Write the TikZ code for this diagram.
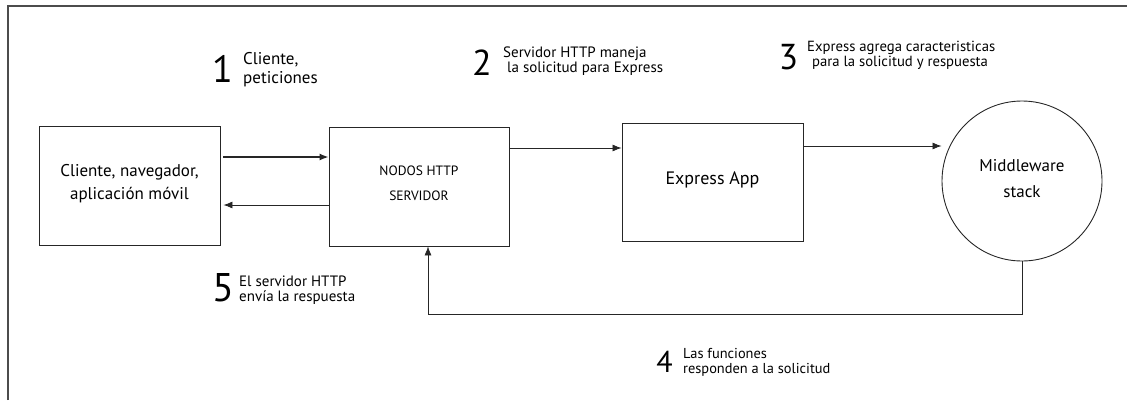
\documentclass[tikz,border=0pt]{standalone}
\usepackage{fontspec}
\setmainfont{PT Sans}
\usetikzlibrary{arrows.meta}
\tikzset{
  caja/.style={draw=black!85, line width=0.9pt, minimum width=181pt, minimum height=119pt, inner sep=0pt},
  rotulo/.style={align=center, font=\fontsize{17}{23}\selectfont},
  numero/.style={inner sep=0pt, font=\fontsize{36}{36}\selectfont},
  nota/.style={anchor=west, align=left, inner sep=0pt, font=\fontsize{15}{15}\selectfont},
  flecha/.style={draw=black!85, line width=0.8pt, -{Latex[length=9pt,width=7pt]}}
}
\begin{document}
\begin{tikzpicture}[x=1pt,y=-1pt]
\useasboundingbox (0,0) rectangle (1127,400);
\draw[black!70, line width=1.2pt] (8,400) -- (8,6) -- (1127,6);
\node[caja, label={[rotulo, yshift=2pt]center:Cliente, navegador,\\aplicación móvil}] (cliente) at (129.5,186) {};
\node[caja, minimum width=180pt, label={[rotulo, font=\fontsize{13.5}{25}\selectfont, yshift=3pt]center:NODOS HTTP\\SERVIDOR}] (servidor) at (419,186.5) {};
\node[caja, minimum height=118pt, label={[rotulo, font=\fontsize{18}{23}\selectfont, yshift=2pt]center:Express App}] (express) at (712.5,182) {};
\node[draw=black!85, line width=0.9pt, circle, minimum size=160pt, inner sep=0pt, label={[rotulo, font=\fontsize{17}{26}\selectfont, yshift=2pt]center:Middleware\\stack}] (middleware) at (1022,181) {};
\coordinate (retorno) at (428,314);
\draw[flecha, line width=1.4pt] ([yshift=29pt,xshift=3pt]cliente.east) -- ([yshift=29pt]cliente.east -| servidor.west);
\draw[flecha] ([yshift=-18.5pt]servidor.west) -- ([yshift=-18.5pt,xshift=3pt]servidor.west -| cliente.east);
\draw[flecha] ([yshift=38.5pt]servidor.east) -- ([yshift=38.5pt]servidor.east -| express.west);
\draw[flecha] ([yshift=36pt]express.east) -- ([yshift=36pt]express.east -| middleware.west);
\draw[flecha, line width=0.6pt] (middleware.south) |- (retorno) -- ([xshift=9pt]servidor.south);
\node[numero, font=\fontsize{38}{38}\selectfont] (n1) at (222.5,69) {1};
\node[nota, font=\fontsize{17}{19}\selectfont] (t1) at (243,70) {Cliente,\\peticiones};
\node[numero] (n2) at (482,62.5) {2};
\node[nota] (t2) at (503,61.5) {Servidor HTTP maneja\\\hspace*{4pt}la solicitud para Express};
\node[numero] (n3) at (788.5,57.5) {3};
\node[nota, font=\fontsize{14.7}{14.7}\selectfont] (t3) at (807,55) {Express agrega caracteristicas\\\hspace*{5pt}para la solicitud y respuesta};
\node[numero, font=\fontsize{30}{30}\selectfont] (n4) at (664.5,362) {4};
\node[nota, font=\fontsize{14.4}{14.4}\selectfont] (t4) at (683,362.5) {Las funciones\\responden a la solicitud};
\node[numero, font=\fontsize{40}{40}\selectfont] (n5) at (223.5,288) {5};
\node[nota] (t5) at (239,290) {El servidor HTTP\\envía la respuesta};
\end{tikzpicture}
\end{document}
